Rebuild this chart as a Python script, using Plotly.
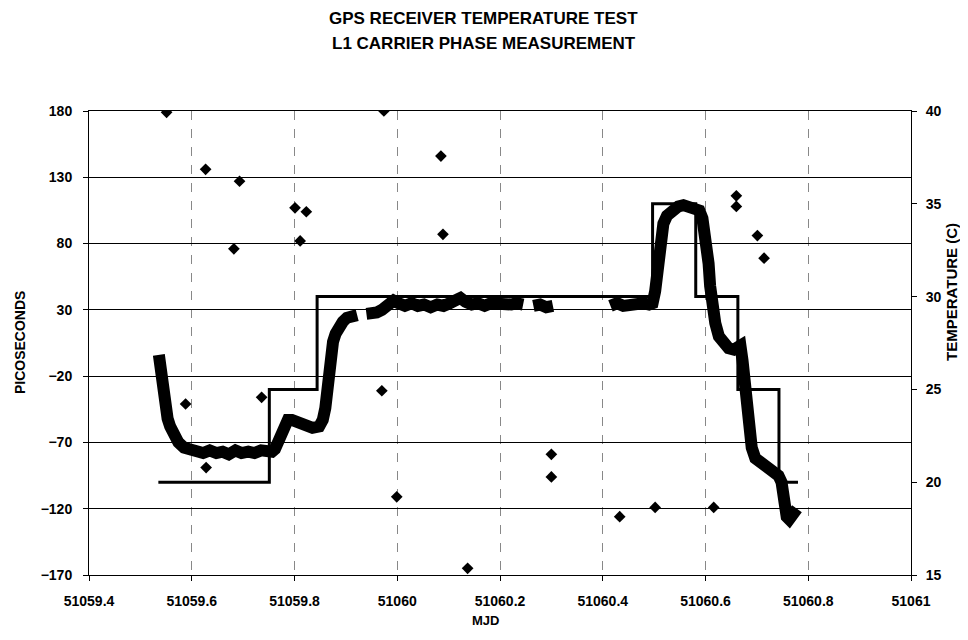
import plotly.graph_objects as go

# ---- data ----
phase_mjd = [
    51059.536, 51059.540, 51059.544, 51059.548, 51059.553, 51059.558, 51059.566, 51059.574,
    51059.585, 51059.597, 51059.610, 51059.622, 51059.635, 51059.648, 51059.660, 51059.672,
    51059.685, 51059.697, 51059.710, 51059.722, 51059.735, 51059.748, 51059.756, 51059.762,
    51059.768, 51059.774, 51059.780, 51059.787, 51059.795, 51059.805, 51059.815, 51059.825,
    51059.835, 51059.848, 51059.855, 51059.860, 51059.864, 51059.867, 51059.871, 51059.875,
    51059.880, 51059.886, 51059.894, 51059.902, 51059.912, 51059.922, None,
    51059.940, 51059.950, 51059.960, 51059.970, 51059.980, 51059.993, 51060.003, 51060.015,
    51060.028, 51060.040, 51060.052, 51060.065, 51060.078, 51060.090, 51060.102, 51060.113,
    51060.123, 51060.133, 51060.145, 51060.157, 51060.170, 51060.182, 51060.195, 51060.208,
    51060.222, 51060.232, 51060.245, None,
    51060.265, 51060.278, 51060.290, 51060.303, None,
    51060.415, 51060.428, 51060.440, 51060.452, 51060.465, 51060.478, 51060.490, 51060.497,
    51060.502, 51060.506, 51060.509, 51060.513, 51060.518, 51060.525, 51060.535, 51060.547,
    51060.557, 51060.567, 51060.577, 51060.588, 51060.594, 51060.598, 51060.602, 51060.606,
    51060.609, 51060.613, 51060.619, 51060.626, 51060.635, 51060.645, 51060.655, 51060.664,
    51060.668, 51060.672, 51060.676, 51060.679, 51060.682, 51060.686, 51060.690, 51060.697,
    51060.706, 51060.714, 51060.724, 51060.733, 51060.742, 51060.748, 51060.751, 51060.754,
    51060.758, 51060.763, 51060.768, 51060.773, 51060.778,
]
phase_ps = [
    -4, -18, -32, -43, -52, -58, -65, -70,
    -74, -76, -77, -78, -76, -78, -77, -79,
    -76, -78, -77, -78, -76, -78, -77, -75,
    -70, -62, -56, -53, -53, -55, -57, -58,
    -59, -58, -53, -44, -28, -14, -2, 6,
    12, 17, 21, 24, 25, 26, None,
    27, 27, 28, 30, 32, 37, 35, 33,
    35, 33, 34, 32, 34, 33, 35, 36,
    39, 36, 34, 35, 33, 35, 34, 33,
    34, 35, 34, None,
    33, 34, 32, 33, None,
    33, 35, 33, 34, 33, 35, 34, 35,
    44, 60, 72, 85, 95, 101, 105, 108,
    109, 108, 107, 105, 99, 90, 80, 65,
    48, 32, 20, 10, 4, 1, 0, 2,
    3, -8, -22, -38, -52, -65, -74, -82,
    -85, -87, -90, -92, -95, -100, -112, -120,
    -126, -128, -126, -123, -120,
]

outlier_mjd = [51059.551, 51059.627, 51059.693, 51059.974, 51060.085, 51059.801, 51059.823,
               51060.089, 51059.811, 51059.682, 51059.588, 51059.736, 51059.628, 51059.970,
               51059.999, 51060.300, 51060.300, 51060.137, 51060.433, 51060.502, 51060.616,
               51060.660, 51060.660, 51060.701, 51060.714]
outlier_ps = [179, 136, 127, 180, 146, 107, 104,
              87, 82, 76, -41, -36, -89, -31,
              -111, -79, -96, -165, -126, -119, -119,
              116, 108, 86, 69]

temp_mjd = [51059.535, 51059.751, 51059.844, 51060.497, 51060.581, 51060.663, 51060.743, 51060.780]
temp_c = [20, 25, 30, 35, 30, 25, 20, 20]

x_ticks = [51059.4, 51059.6, 51059.8, 51060, 51060.2, 51060.4, 51060.6, 51060.8, 51061]
x_tick_text = ["51059.4", "51059.6", "51059.8", "51060", "51060.2", "51060.4", "51060.6", "51060.8", "51061"]
y_ticks = [-170, -120, -70, -20, 30, 80, 130, 180]
y2_ticks = [15, 20, 25, 30, 35, 40]

FONT = "Liberation Sans, Arial, sans-serif"

fig = go.Figure()

fig.add_trace(go.Scatter(
    x=phase_mjd, y=phase_ps, mode="lines",
    line=dict(color="black", width=12), connectgaps=False, showlegend=False,
))
fig.add_trace(go.Scatter(
    x=outlier_mjd, y=outlier_ps, mode="markers",
    marker=dict(symbol="diamond", size=9, color="black"), showlegend=False,
))
fig.add_trace(go.Scatter(
    x=temp_mjd, y=temp_c, mode="lines", line_shape="hv",
    line=dict(color="black", width=3), yaxis="y2", showlegend=False,
))

tickfont = dict(family=FONT, size=14, color="black", weight="bold")

# page body has an 8px margin; figure sized so the whole page fits 968x640
fig.update_layout(
    width=952, height=624,
    margin=dict(l=81, r=49, t=103, b=57),
    paper_bgcolor="white", plot_bgcolor="white",
    xaxis=dict(
        range=[51059.4, 51061], tickvals=x_ticks, ticktext=x_tick_text,
        showgrid=True, gridcolor="#888888", griddash="dash", gridwidth=1,
        showline=True, linecolor="black", linewidth=1, mirror=True,
        ticks="outside", ticklen=5, tickcolor="black", tickfont=tickfont,
        zeroline=False, ticklabelstandoff=8,
    ),
    yaxis=dict(
        range=[-170, 180], tickvals=y_ticks,
        showgrid=True, gridcolor="black", gridwidth=1,
        showline=True, linecolor="black", linewidth=1,
        ticks="outside", ticklen=5, tickcolor="black", tickfont=tickfont,
        zeroline=False, ticklabelstandoff=8,
    ),
    yaxis2=dict(
        range=[15, 40], tickvals=y2_ticks, overlaying="y", side="right",
        showgrid=False, showline=True, linecolor="black", linewidth=1,
        ticks="outside", ticklen=5, tickcolor="black", tickfont=tickfont,
        zeroline=False, ticklabelstandoff=6,
    ),
    annotations=[
        dict(text="GPS RECEIVER TEMPERATURE TEST", xref="paper", yref="paper",
             x=0.4805, y=1.2004, showarrow=False, xanchor="center", yanchor="middle",
             font=dict(family=FONT, size=17, color="black", weight="bold")),
        dict(text="L1 CARRIER PHASE MEASUREMENT", xref="paper", yref="paper",
             x=0.4805, y=1.1444, showarrow=False, xanchor="center", yanchor="middle",
             font=dict(family=FONT, size=17, color="black", weight="bold")),
        dict(text="PICOSECONDS", xref="paper", yref="paper", x=-0.0839, y=0.5,
             showarrow=False, textangle=-90, xanchor="center", yanchor="middle",
             font=dict(family=FONT, size=14, color="black", weight="bold")),
        dict(text="TEMPERATURE (C)", xref="paper", yref="paper", x=1.0499, y=0.61,
             showarrow=False, textangle=-90, xanchor="center", yanchor="middle",
             font=dict(family=FONT, size=15, color="black", weight="bold")),
        dict(text="MJD", xref="paper", yref="paper", x=0.4818, y=-0.097,
             showarrow=False, xanchor="center", yanchor="middle",
             font=dict(family=FONT, size=13, color="black", weight="bold")),
    ],
)

fig.write_html("out.html")
